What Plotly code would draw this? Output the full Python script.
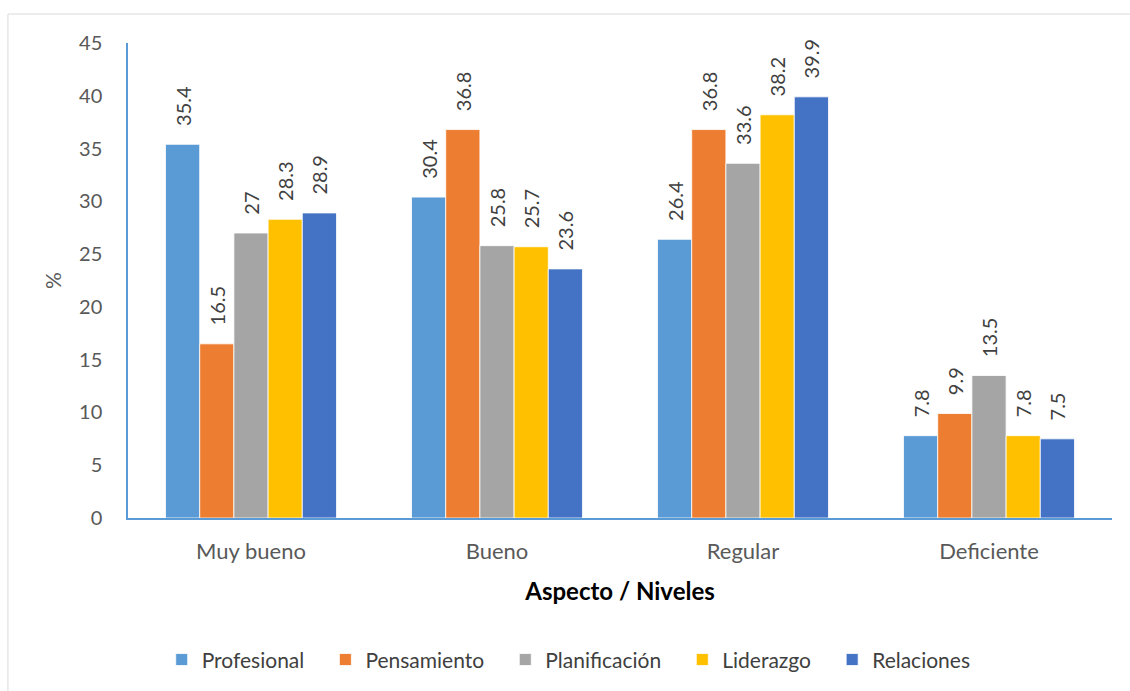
import plotly.graph_objects as go

# Aspect levels and percentage per competence
niveles = ["Muy bueno", "Bueno", "Regular", "Deficiente"]
profesional = [35.4, 30.4, 26.4, 7.8]
pensamiento = [16.5, 36.8, 36.8, 9.9]
planificacion = [27, 25.8, 33.6, 13.5]
liderazgo = [28.3, 25.7, 38.2, 7.8]
relaciones = [28.9, 23.6, 39.9, 7.5]

series = [
    ("Profesional", profesional, "#5B9BD5"),
    ("Pensamiento", pensamiento, "#ED7D31"),
    ("Planificación", planificacion, "#A5A5A5"),
    ("Liderazgo", liderazgo, "#FFC000"),
    ("Relaciones", relaciones, "#4472C4"),
]

FONT = "Lato"
NB = "\u00a0"
PAD = NB * 3  # gap between the bar top and its rotated label

fig = go.Figure()
for name, vals, color in series:
    fig.add_trace(go.Bar(
        name=name + NB * 3,
        x=niveles,
        y=vals,
        text=[PAD + f"{v:g}" for v in vals],
        textposition="outside",
        textangle=-90,
        constraintext="none",
        cliponaxis=False,
        textfont=dict(family=FONT, size=20, color="#404040"),
        marker=dict(color=color, line=dict(color="white", width=0.8)),
    ))

axis_blue = "#5B9BD5"
fig.update_layout(
    width=1130,
    height=691,
    margin=dict(l=128, r=18, t=43, b=172),
    paper_bgcolor="white",
    plot_bgcolor="white",
    barmode="group",
    bargap=0.305,
    bargroupgap=0,
    font=dict(family=FONT, size=20, color="#595959"),
    xaxis=dict(
        showgrid=False,
        showline=True,
        linecolor=axis_blue,
        linewidth=1.5,
        ticks="",
        ticklabelstandoff=13,
        tickfont=dict(family=FONT, size=22, color="#595959"),
        title=dict(text="<b>Aspecto / Niveles</b>", standoff=20,
                   font=dict(family=FONT, size=24, color="#000000")),
    ),
    yaxis=dict(
        range=[0, 45],
        dtick=5,
        showgrid=False,
        zeroline=False,
        showline=True,
        linecolor=axis_blue,
        linewidth=1.5,
        ticks="",
        ticklabelstandoff=20,
        tickfont=dict(family=FONT, size=20, color="#595959"),
        title=dict(text="%", standoff=12,
                   font=dict(family=FONT, size=21, color="#595959")),
    ),
    legend=dict(
        orientation="h",
        x=0.456,
        xanchor="center",
        y=-0.296,
        yanchor="middle",
        font=dict(family=FONT, size=21, color="#404040"),
        itemwidth=30,
        traceorder="normal",
    ),
    showlegend=True,
    shapes=[dict(
        type="rect", xref="paper", yref="paper",
        x0=-0.122, y0=-0.40, x1=1.03, y1=1.061,
        line=dict(color="#D9D9D9", width=1),
        fillcolor="rgba(0,0,0,0)", layer="below",
    )],
)

fig.write_html("out.html")
